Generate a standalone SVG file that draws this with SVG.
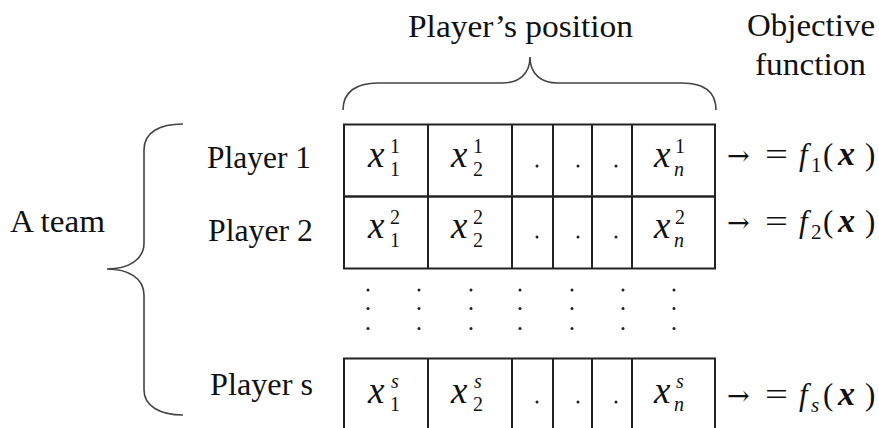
<svg xmlns="http://www.w3.org/2000/svg" width="879" height="428" viewBox="0 0 879 428">
<defs>
<style>
.grid{fill:none;stroke:#222;stroke-width:2}
.brace{fill:none;stroke:#444;stroke-width:1.6}
.dot{fill:#222}
</style>
</defs>
<rect width="879" height="428" fill="#fff"/>

<g font-family="'Liberation Serif', serif" fill="#111">

<g id="header" font-size="32">
<text x="408" y="37" textLength="225" lengthAdjust="spacingAndGlyphs">Player’s position</text>
<text x="747" y="36" textLength="128" lengthAdjust="spacingAndGlyphs">Objective</text>
<text x="755" y="75" textLength="111" lengthAdjust="spacingAndGlyphs">function</text>
</g>

<g id="connectors">
<path class="brace" d="M343,110 C343,92 356,83 378,83 L502,83 C519,83 530,74 530,57 C530,74 541,83 558,83 L682,83 C704,83 716,92 716,110"/>
<path class="brace" d="M183,124 C160,124 144,132 144,150 L144,243 C144,260 128,269 107,269 C128,269 144,278 144,295 L144,390 C144,406 160,415 183,415"/>
</g>

<g id="team" font-size="31">
<text x="10" y="232" textLength="95" lengthAdjust="spacingAndGlyphs">A team</text>
</g>

<g id="player1">
<text x="207" y="168" font-size="31" textLength="104" lengthAdjust="spacingAndGlyphs">Player 1</text>
<rect class="grid" x="344" y="124.5" width="371" height="72"/>
<path class="grid" d="M428,124.5V196.5M512,124.5V196.5M553,124.5V196.5M592,124.5V196.5M632,124.5V196.5"/>
<text font-size="20"><tspan x="368" y="167" font-size="37" font-style="italic">x</tspan><tspan x="390" y="153">1</tspan><tspan x="390" y="176">1</tspan></text>
<text font-size="20"><tspan x="451" y="167" font-size="37" font-style="italic">x</tspan><tspan x="473" y="153">1</tspan><tspan x="473" y="176">2</tspan></text>
<circle class="dot" cx="537" cy="166" r="1.5"/><circle class="dot" cx="578" cy="166" r="1.5"/><circle class="dot" cx="616" cy="166" r="1.5"/>
<text font-size="20"><tspan x="654" y="167" font-size="37" font-style="italic">x</tspan><tspan x="675" y="153">1</tspan><tspan x="674" y="176" font-style="italic">n</tspan></text>
<text font-size="31" y="165"><tspan x="727" font-family="'DejaVu Serif', serif" font-size="27">→</tspan><tspan x="765" textLength="23" lengthAdjust="spacingAndGlyphs">=</tspan><tspan x="799" font-style="italic">f</tspan><tspan x="811" y="172" font-size="21">1</tspan><tspan x="823" y="165">(</tspan><tspan x="838" font-style="italic" font-weight="bold" font-size="34">x</tspan><tspan x="865">)</tspan></text>
</g>

<g id="player2">
<text x="208" y="241" font-size="31" textLength="105" lengthAdjust="spacingAndGlyphs">Player 2</text>
<rect class="grid" x="344" y="196.5" width="371" height="72"/>
<path class="grid" d="M428,196.5V268.5M512,196.5V268.5M553,196.5V268.5M592,196.5V268.5M632,196.5V268.5"/>
<text font-size="20"><tspan x="368" y="238" font-size="37" font-style="italic">x</tspan><tspan x="390" y="224">2</tspan><tspan x="390" y="247">1</tspan></text>
<text font-size="20"><tspan x="451" y="238" font-size="37" font-style="italic">x</tspan><tspan x="473" y="224">2</tspan><tspan x="473" y="247">2</tspan></text>
<circle class="dot" cx="537" cy="237" r="1.5"/><circle class="dot" cx="578" cy="237" r="1.5"/><circle class="dot" cx="616" cy="237" r="1.5"/>
<text font-size="20"><tspan x="654" y="238" font-size="37" font-style="italic">x</tspan><tspan x="675" y="224">2</tspan><tspan x="674" y="247" font-style="italic">n</tspan></text>
<text font-size="31" y="232"><tspan x="727" font-family="'DejaVu Serif', serif" font-size="27">→</tspan><tspan x="765" textLength="23" lengthAdjust="spacingAndGlyphs">=</tspan><tspan x="799" font-style="italic">f</tspan><tspan x="811" y="239" font-size="21">2</tspan><tspan x="823" y="232">(</tspan><tspan x="838" font-style="italic" font-weight="bold" font-size="34">x</tspan><tspan x="865">)</tspan></text>
</g>

<g id="ellipsis">
<circle class="dot" cx="368" cy="290" r="1.5"/><circle class="dot" cx="368" cy="308.5" r="1.5"/><circle class="dot" cx="368" cy="328.5" r="1.5"/>
<circle class="dot" cx="419" cy="290" r="1.5"/><circle class="dot" cx="419" cy="308.5" r="1.5"/><circle class="dot" cx="419" cy="328.5" r="1.5"/>
<circle class="dot" cx="471" cy="290" r="1.5"/><circle class="dot" cx="471" cy="308.5" r="1.5"/><circle class="dot" cx="471" cy="328.5" r="1.5"/>
<circle class="dot" cx="520" cy="290" r="1.5"/><circle class="dot" cx="520" cy="308.5" r="1.5"/><circle class="dot" cx="520" cy="328.5" r="1.5"/>
<circle class="dot" cx="572" cy="290" r="1.5"/><circle class="dot" cx="572" cy="308.5" r="1.5"/><circle class="dot" cx="572" cy="328.5" r="1.5"/>
<circle class="dot" cx="623" cy="290" r="1.5"/><circle class="dot" cx="623" cy="308.5" r="1.5"/><circle class="dot" cx="623" cy="328.5" r="1.5"/>
<circle class="dot" cx="674" cy="290" r="1.5"/><circle class="dot" cx="674" cy="308.5" r="1.5"/><circle class="dot" cx="674" cy="328.5" r="1.5"/>
</g>

<g id="players">
<text x="210" y="395" font-size="31" textLength="103" lengthAdjust="spacingAndGlyphs">Player s</text>
<path class="grid" d="M344,432V358.5H715V432M428,358.5V432M512,358.5V432M553,358.5V432M592,358.5V432M632,358.5V432"/>
<text font-size="20"><tspan x="368" y="403" font-size="37" font-style="italic">x</tspan><tspan x="391" y="388" font-style="italic">s</tspan><tspan x="390" y="411">1</tspan></text>
<text font-size="20"><tspan x="451" y="403" font-size="37" font-style="italic">x</tspan><tspan x="474" y="388" font-style="italic">s</tspan><tspan x="473" y="411">2</tspan></text>
<circle class="dot" cx="537" cy="402" r="1.5"/><circle class="dot" cx="578" cy="402" r="1.5"/><circle class="dot" cx="616" cy="402" r="1.5"/>
<text font-size="20"><tspan x="654" y="403" font-size="37" font-style="italic">x</tspan><tspan x="676" y="388" font-style="italic">s</tspan><tspan x="674" y="411" font-style="italic">n</tspan></text>
<text font-size="31" y="405"><tspan x="727" font-family="'DejaVu Serif', serif" font-size="27">→</tspan><tspan x="765" textLength="23" lengthAdjust="spacingAndGlyphs">=</tspan><tspan x="799" font-style="italic">f</tspan><tspan x="811" y="412" font-size="21" font-style="italic">s</tspan><tspan x="823" y="405">(</tspan><tspan x="838" font-style="italic" font-weight="bold" font-size="34">x</tspan><tspan x="865">)</tspan></text>
</g>

</g>
</svg>
